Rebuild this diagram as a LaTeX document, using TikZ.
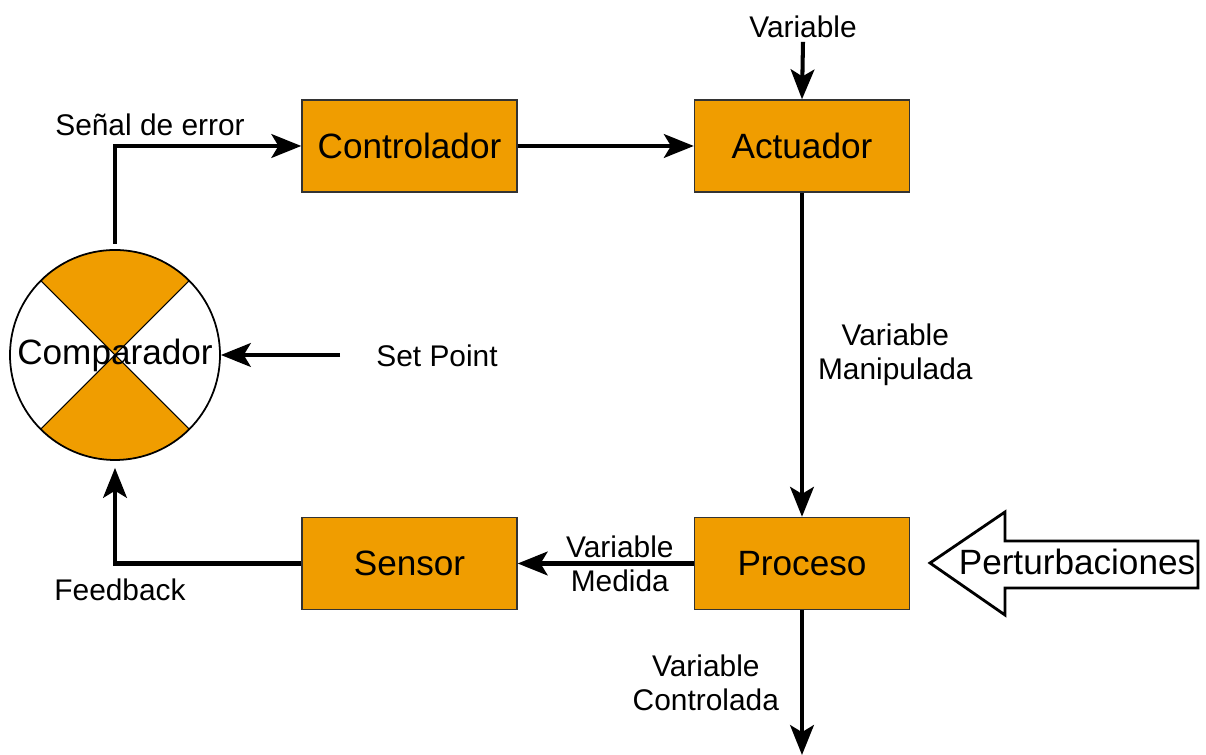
\documentclass[tikz,border=0pt]{standalone}
\usepackage{fontspec}
\setmainfont{Liberation Sans}
\usetikzlibrary{arrows.meta,positioning,calc}
\definecolor{blockO}{RGB}{240,157,0}

\begin{document}
\begin{tikzpicture}[
  block/.style={rectangle, draw=black!80, line width=0.8pt, fill=blockO, minimum width=4.3cm, minimum height=1.84cm, inner sep=2pt, font=\fontsize{20}{24}\selectfont},
  lbl/.style={font=\fontsize{17}{19.5}\selectfont, align=center, inner sep=2pt},
  flow/.style={line width=2.3pt, -{Stealth[length=17pt, width=13.5pt, inset=4pt]}},
  ]
  \useasboundingbox (0,0) rectangle (24.12,15.1);

  % comparator: white disc, orange top and bottom quarters, thin cross
  \fill[blockO] (2.3,8) -- ++(45:2.1) arc[start angle=45, end angle=135, radius=2.1] -- cycle;
  \fill[blockO] (2.3,8) -- ++(225:2.1) arc[start angle=225, end angle=315, radius=2.1] -- cycle;
  \draw[line width=0.6pt] (2.3,8) +(45:2.1) -- +(225:2.1);
  \draw[line width=0.6pt] (2.3,8) +(135:2.1) -- +(315:2.1);
  \node[circle, draw=black, line width=1pt, minimum size=4.2cm, inner sep=0pt, font=\fontsize{20}{24}\selectfont] (comp) at (2.3,8) {Comparador};

  % blocks
  \node[block] (ctrl) at (8.19,12.18) {Controlador};
  \node[block] (act)  at (16.04,12.18) {Actuador};
  \node[block] (sens) at (8.19,3.83) {Sensor};
  \node[block] (proc) at (16.04,3.83) {Proceso};

  % forward path
  \draw[flow, shorten <=3pt] (comp.north) |- (ctrl.west);
  \node[lbl] (err) at (3.0,12.6) {Señal de error};
  \draw[flow] (ctrl) -- (act);
  \node[lbl] (vin) at (16.06,14.56) {Variable};
  \draw[flow] (vin.south) -- (act.north);
  \draw[flow] (act) -- node[lbl, right=6pt] {Variable\\Manipulada} (proc);

  % output
  \coordinate (vout) at (16.04,0);
  \draw[flow] (proc) -- node[lbl, left=10pt] {Variable\\Controlada} (vout);

  % feedback path
  \draw[flow] (proc) -- node[lbl, pos=0.42] {Variable\\Medida} (sens);
  \draw[flow, shorten >=4pt] (sens.west) -| (comp.south);
  \node[lbl] (fb) at (2.4,3.3) {Feedback};

  % set point
  \node[lbl] (sp) at (8.74,7.98) {Set Point};
  \coordinate (spin) at (6.8,8.0);
  \draw[flow] (spin) -- (comp.east);

  % disturbances: hollow block arrow
  \draw[line width=1.6pt, fill=white] (18.6,3.84) -- (20.1,4.86) -- (20.1,4.28) -- (23.96,4.28)
    -- (23.96,3.34) -- (20.1,3.34) -- (20.1,2.8) -- cycle;
  \node[font=\fontsize{20}{24}\selectfont, inner sep=0pt] (pert) at (21.54,3.86) {Perturbaciones};
\end{tikzpicture}
\end{document}
